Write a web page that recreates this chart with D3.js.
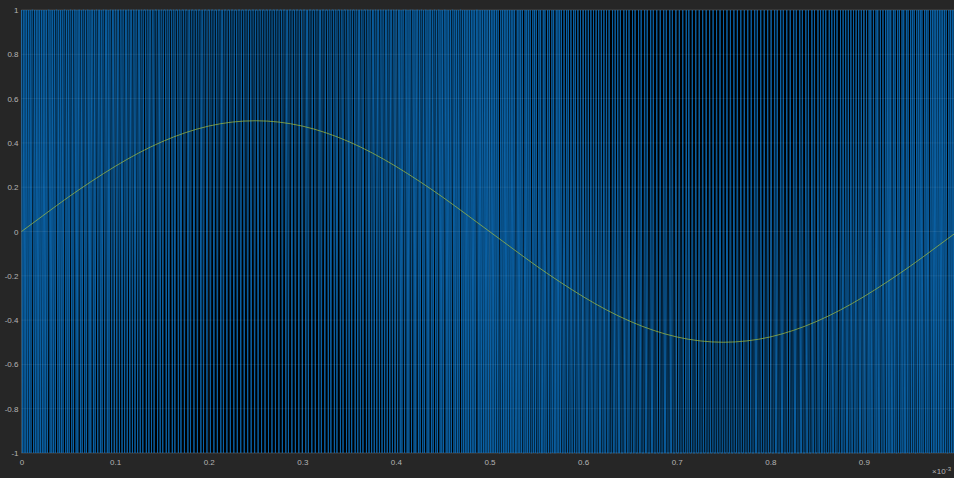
<!DOCTYPE html>
<html>
<head>
<meta charset="utf-8">
<script src="https://cdn.jsdelivr.net/npm/d3@7"></script>
<style>
  body { margin: 0; background: #262626; }
  svg { display: block; }
  .tick text { fill: #b4b4b4; font-family: "Liberation Sans", Arial, sans-serif; font-size: 8px; }
</style>
</head>
<body>
<script>
const w = 954;
const h = 478;

// modulator output, run lengths.
// positive half: each digit = run of +1 samples, followed by one -1 sample
const posRuns =
  "1111112111111" + "112111211121" + "12121212121" + "2122122122" + "222222222" +
  "22322232" + "23232323" + "3233323" + "3333233" + "3333333" +
  "3333333" + "3323333" + "3233323" + "32323232" + "23222322" +
  "222222222" + "2212212212" + "12121212121" + "121112111211" + "1111112111111";
// negative half: one +1 sample, then a run of -1 samples
const negRuns =
  "1111121111111" + "121112111211" + "21212121211" + "1221221222" + "222222222" +
  "23222322" + "32323232" + "3332323" + "3332333" + "3333333" +
  "3333333" + "3323333" + "3232333" + "23232323" + "22232223" +
  "222222222" + "2212212221" + "11212121212" + "112111211211" + "1111111211111";

// reference sine (amplitude 0.5), read at steps of 0.025
const sineX = [0, 0.025, 0.05, 0.075, 0.1, 0.125, 0.15, 0.175, 0.2, 0.225, 0.25,
  0.275, 0.3, 0.325, 0.35, 0.375, 0.4, 0.425, 0.45, 0.475, 0.5,
  0.525, 0.55, 0.575, 0.6, 0.625, 0.65, 0.675, 0.7, 0.725, 0.75,
  0.775, 0.8, 0.825, 0.85, 0.875, 0.9, 0.925, 0.95, 0.975, 1];
const sineY = [0, 0.078, 0.155, 0.227, 0.294, 0.354, 0.405, 0.446, 0.476, 0.494, 0.5,
  0.494, 0.476, 0.446, 0.405, 0.354, 0.294, 0.227, 0.155, 0.078, 0,
  -0.078, -0.155, -0.227, -0.294, -0.354, -0.405, -0.446, -0.476, -0.494, -0.5,
  -0.494, -0.476, -0.446, -0.405, -0.354, -0.294, -0.227, -0.155, -0.078, 0];

const xTicks = [0, 0.1, 0.2, 0.3, 0.4, 0.5, 0.6, 0.7, 0.8, 0.9];
const yTicks = [-1, -0.8, -0.6, -0.4, -0.2, 0, 0.2, 0.4, 0.6, 0.8, 1];

// unpack the runs into samples
const signal = [];
posRuns.split("").forEach(k => {
  for (let i = 0; i < +k; i++) signal.push(1);
  signal.push(-1);
});
negRuns.split("").forEach(k => {
  signal.push(1);
  for (let i = 0; i < +k; i++) signal.push(-1);
});

const padLeft = 21.5, padTop = 10, padBottom = 453;
const xMax = 1 - 1 / signal.length;

const xScale = d3.scaleLinear().domain([0, xMax]).range([padLeft, padLeft + xMax * 936]);
const yScale = d3.scaleLinear().domain([-1, 1]).range([padBottom, padTop]);

const svg = d3.select("body").append("svg").attr("width", w).attr("height", h);

svg.append("rect").attr("width", w).attr("height", h).attr("fill", "#262626");

// axes background
svg.append("rect")
  .attr("x", xScale(0)).attr("y", yScale(1))
  .attr("width", xScale(xMax) - xScale(0)).attr("height", yScale(-1) - yScale(1))
  .attr("fill", "#000");

// box
svg.append("rect")
  .attr("x", xScale(0)).attr("y", yScale(1))
  .attr("width", xScale(xMax) - xScale(0)).attr("height", yScale(-1) - yScale(1))
  .attr("fill", "none").attr("stroke", "#4a4a4a").attr("stroke-width", 0.6);

// bitstream
svg.append("path")
  .datum(signal)
  .attr("fill", "none")
  .attr("stroke", "#0c64aa")
  .attr("stroke-width", 0.95)
  .attr("d", d3.line().x((d, i) => xScale(i / signal.length)).y(d => yScale(d)));

// sine
svg.append("path")
  .datum(sineX.map((x, i) => [x, sineY[i]]))
  .attr("fill", "none")
  .attr("stroke", "#a8c03c")
  .attr("stroke-width", 0.7)
  .attr("d", d3.line().x(d => xScale(d[0])).y(d => yScale(d[1])).curve(d3.curveNatural));

// grid
const grid = svg.append("g").attr("stroke", "#ffffff").attr("stroke-opacity", 0.12).attr("stroke-width", 0.6);
grid.selectAll(".gy").data(yTicks).enter().append("line")
  .attr("x1", xScale(0)).attr("x2", xScale(xMax))
  .attr("y1", d => yScale(d)).attr("y2", d => yScale(d));
grid.selectAll(".gx").data(xTicks).enter().append("line")
  .attr("y1", yScale(1)).attr("y2", yScale(-1))
  .attr("x1", d => xScale(d)).attr("x2", d => xScale(d));

// axes
const xAxis = d3.axisBottom(xScale).tickValues(xTicks).tickSize(0).tickPadding(6)
  .tickFormat(d => String(d));
const yAxis = d3.axisLeft(yScale).tickValues(yTicks).tickSize(0).tickPadding(3)
  .tickFormat(d => String(d));

svg.append("g")
  .attr("transform", "translate(0," + padBottom + ")")
  .call(xAxis)
  .call(g => g.select(".domain").remove());

svg.append("g")
  .attr("transform", "translate(" + padLeft + ",0)")
  .call(yAxis)
  .call(g => g.select(".domain").remove());

// exponent label
const expo = svg.append("text")
  .attr("x", 951)
  .attr("y", 474)
  .attr("text-anchor", "end")
  .attr("fill", "#b4b4b4")
  .style("font-family", "Liberation Sans, Arial, sans-serif")
  .style("font-size", "8px");
expo.append("tspan").text("\u00d710");
expo.append("tspan").attr("dy", -3).style("font-size", "6px").text("-3");
</script>
</body>
</html>
